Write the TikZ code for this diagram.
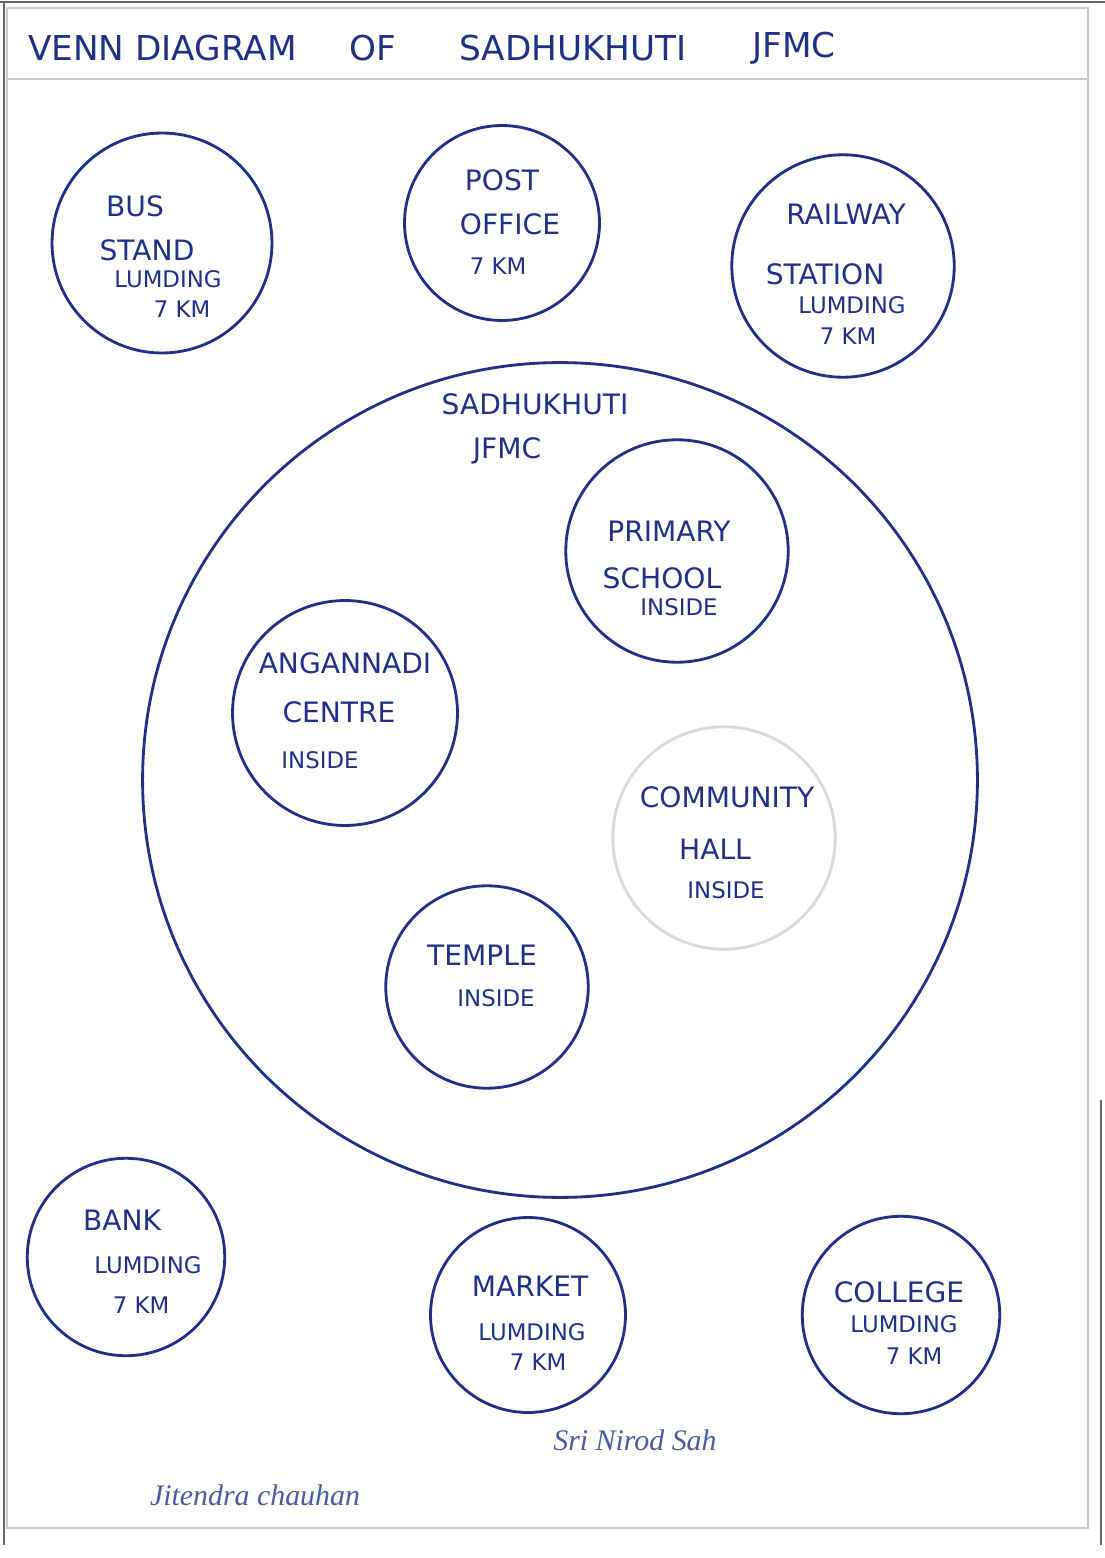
\documentclass[tikz,border=0pt]{standalone}
\usepackage{fontspec}
\setmainfont{DejaVu Sans}
\newfontfamily\handfont{Liberation Serif}
\usetikzlibrary{positioning}
\definecolor{ink}{RGB}{32,48,135}
\definecolor{paper}{RGB}{200,200,200}

\begin{document}
\begin{tikzpicture}
			[x=0.02cm, y=-0.02cm,
			ring/.style={circle, draw=ink, line width=1.6pt, inner sep=0pt},
			big/.style={text=ink, font=\fontsize{16}{18}\selectfont},
			sml/.style={text=ink, font=\fontsize{13}{15}\selectfont},
			ttl/.style={text=ink, anchor=west, font=\fontsize{19.5}{22}\selectfont},
			sign/.style={text=ink!80, font=\handfont\itshape\fontsize{17}{19}\selectfont}]
			\useasboundingbox (0,0) rectangle (1105,1558);
			\fill[white] (0,0) rectangle (1105,1558);
			\draw[paper, line width=1.5pt] (7,8) rectangle (1088,1528);
			\draw[paper, line width=1.5pt] (7,79) -- (1088,79);
			\draw[black!60, line width=0.8pt] (0,2) -- (1105,2);
			\draw[black!60, line width=1pt] (4,2) -- (4,1545);
			\draw[black!60, line width=1pt] (1101,1100) -- (1101,1545);
			\node[ttl] (t1) at (22,48) {VENN DIAGRAM};
			\node[ttl] (t2) at (343,48) {OF};
			\node[ttl] (t3) at (453,48) {SADHUKHUTI};
			\node[ttl] (t4) at (746,48) {JFMC};

			\node[ring, minimum size=4.4cm] (bus) at (162,243) {};
			\node[big] (bus1) at (135,206) {BUS};
			\node[big] (bus2) at (147,250) {STAND};
			\node[sml] (bus3) at (168,279) {LUMDING};
			\node[sml] (bus4) at (182,309) {7 KM};

			\node[ring, minimum size=3.9cm] (post) at (502,223) {};
			\node[big] (post1) at (502,180) {POST};
			\node[big] (post2) at (510,224) {OFFICE};
			\node[sml] (post3) at (498,266) {7 KM};

			\node[ring, minimum size=4.45cm] (rail) at (843,266) {};
			\node[big] (rail1) at (846,214) {RAILWAY};
			\node[big] (rail2) at (825,274) {STATION};
			\node[sml] (rail3) at (852,305) {LUMDING};
			\node[sml] (rail4) at (848,336) {7 KM};

			\node[ring, minimum size=16.7cm] (jfmc) at (560,780) {};
			\node[big] (jfmc1) at (535,404) {SADHUKHUTI};
			\node[big] (jfmc2) at (507,451) {JFMC};

			\node[ring, minimum size=4.45cm] (school) at (677,551) {};
			\node[big] (school1) at (669,531) {PRIMARY};
			\node[big] (school2) at (662,578) {SCHOOL};
			\node[sml] (school3) at (679,607) {INSIDE};

			\node[ring, minimum size=4.5cm] (angan) at (345,713) {};
			\node[big] (angan1) at (345,663) {ANGANNADI};
			\node[big] (angan2) at (339,712) {CENTRE};
			\node[sml] (angan3) at (320,760) {INSIDE};

			\node[ring, draw=black!15, minimum size=4.45cm] (hall) at (724,838) {};
			\node[big] (hall1) at (727,797) {COMMUNITY};
			\node[big] (hall2) at (715,849) {HALL};
			\node[sml] (hall3) at (726,890) {INSIDE};

			\node[ring, minimum size=4.05cm] (temple) at (487,987) {};
			\node[big] (temple1) at (482,955) {TEMPLE};
			\node[sml] (temple2) at (496,998) {INSIDE};

			\node[ring, minimum size=3.95cm] (bank) at (126,1257) {};
			\node[big] (bank1) at (122,1220) {BANK};
			\node[sml] (bank2) at (148,1265) {LUMDING};
			\node[sml] (bank3) at (141,1305) {7 KM};

			\node[ring, minimum size=3.9cm] (market) at (528,1315) {};
			\node[big] (market1) at (530,1286) {MARKET};
			\node[sml] (market2) at (532,1332) {LUMDING};
			\node[sml] (market3) at (538,1362) {7 KM};

			\node[ring, minimum size=3.95cm] (college) at (901,1315) {};
			\node[big] (college1) at (899,1292) {COLLEGE};
			\node[sml] (college2) at (904,1324) {LUMDING};
			\node[sml] (college3) at (914,1356) {7 KM};

			\node[sign] (sig1) at (635,1440) {Sri Nirod Sah};
			\node[sign] (sig2) at (255,1495) {Jitendra chauhan};
\end{tikzpicture}
\end{document}
